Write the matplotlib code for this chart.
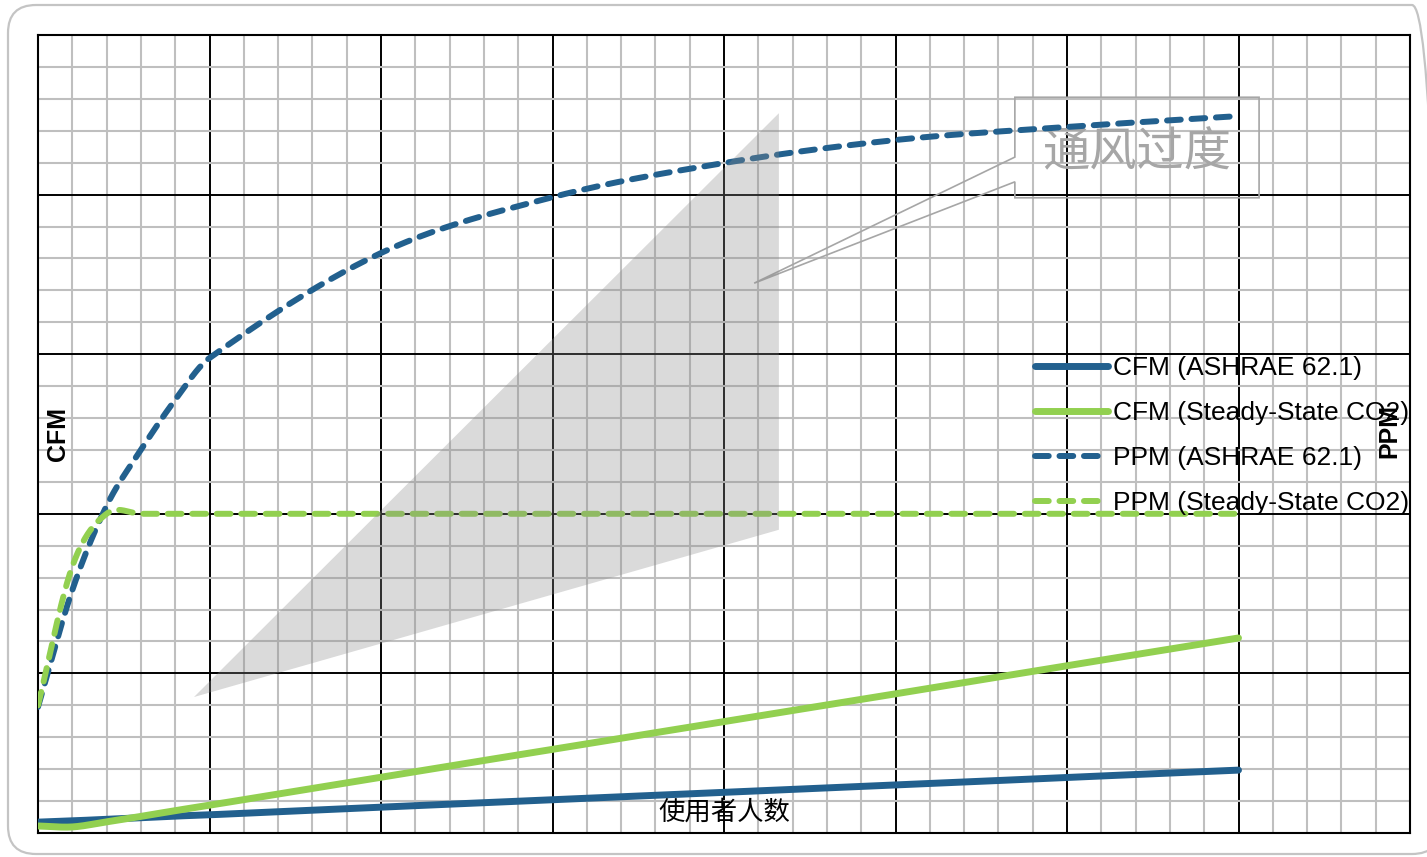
import numpy as np
import matplotlib
matplotlib.use("Agg")
import matplotlib.pyplot as plt
from matplotlib.patches import Polygon, FancyBboxPatch
from matplotlib.transforms import IdentityTransform

# ---- data -------------------------------------------------------------
occupants = [0, 1, 2, 3, 4, 5, 10, 15, 20, 25, 30, 35]
cfm_ashrae = [34, 38, 43, 48, 53, 57, 81, 104, 127, 150, 174, 197]
cfm_steady = [22, 19, 35, 52, 70, 87, 175, 262, 349, 436, 524, 611]
ppm_ashrae = [395, 761, 1025, 1200, 1357, 1488, 1817, 1992, 2099, 2171, 2212, 2246]
ppm_steady = [400, 835, 1000, 1000, 1000, 1000, 1000, 1000, 1000, 1000, 1000, 1000]

series_labels = ["CFM (ASHRAE 62.1)", "CFM (Steady-State CO2)",
                 "PPM (ASHRAE 62.1)", "PPM (Steady-State CO2)"]
x_title = "使用者人数"
left_title = "CFM"
right_title = "PPM"
callout_text = "通风过度"

BLUE = "#22608E"
GREEN = "#92D050"
LATIN = ["Liberation Sans", "DejaVu Sans"]
CJK = ["Noto Sans CJK SC", "DejaVu Sans"]


def smooth(x, y, n=40):
    """Piecewise cubic Hermite curve through the points (smoothed line)."""
    x = np.asarray(x, float)
    y = np.asarray(y, float)
    m = np.empty_like(y)
    m[1:-1] = (y[2:] - y[:-2]) / (x[2:] - x[:-2])
    m[0] = (y[1] - y[0]) / (x[1] - x[0])
    m[-1] = (y[-1] - y[-2]) / (x[-1] - x[-2])
    xs, ys = [], []
    for i in range(len(x) - 1):
        h = x[i + 1] - x[i]
        t = np.linspace(0, 1, n, endpoint=(i == len(x) - 2))
        h00 = 2 * t**3 - 3 * t**2 + 1
        h10 = t**3 - 2 * t**2 + t
        h01 = -2 * t**3 + 3 * t**2
        h11 = t**3 - t**2
        xs.append(x[i] + t * h)
        ys.append(h00 * y[i] + h10 * h * m[i] + h01 * y[i + 1] + h11 * h * m[i + 1])
    return np.concatenate(xs), np.concatenate(ys)


fig = plt.figure(figsize=(14.27, 8.57), dpi=100)
fig.patch.set_facecolor("white")

# rounded outer frame
frame = FancyBboxPatch((8, 3), 1432, 849, boxstyle="round,pad=0,rounding_size=28",
                       transform=IdentityTransform(), facecolor="none",
                       edgecolor="#C4C4C4", linewidth=1.6, zorder=0)
fig.patches.append(frame)

ax = fig.add_axes([38 / 1427, 1 - 833 / 857, 1372 / 1427, 798 / 857])
ax.set_xlim(0, 40)
ax.set_ylim(0, 2500)
ax.set_xticks(np.arange(0, 41, 5))
ax.set_xticks(np.arange(0, 41, 1), minor=True)
ax.set_yticks(np.arange(0, 2501, 500))
ax.set_yticks(np.arange(0, 2501, 100), minor=True)
ax.grid(which="minor", color="#BFBFBF", linewidth=1.5)
ax.grid(which="major", color="black", linewidth=1.4)
ax.tick_params(which="both", length=0, labelleft=False, labelbottom=False)
for s in ax.spines.values():
    s.set_color("black")
    s.set_linewidth(1.5)

ax2 = ax.twinx()
ax2.set_ylim(0, 2500)
ax2.tick_params(which="both", length=0, labelright=False)
for s in ax2.spines.values():
    s.set_visible(False)

solid_kw = dict(linewidth=5.0, solid_capstyle="round", solid_joinstyle="round")
dash_kw = dict(linewidth=4.3, dash_capstyle="round", dashes=(2.3, 1.8))

h1, = ax.plot(*smooth(occupants, cfm_ashrae), color=BLUE, **solid_kw, zorder=3)
h2, = ax.plot(*smooth(occupants, cfm_steady), color=GREEN, **solid_kw, zorder=3)
h3, = ax2.plot(*smooth(occupants, ppm_ashrae), color=BLUE, **dash_kw, zorder=3)
h4, = ax2.plot(*smooth(occupants, ppm_steady), color=GREEN, **dash_kw, zorder=3)

# shaded over-ventilation wedge
wedge = Polygon([(0.1137, 0.1704), (0.540, 0.902), (0.540, 0.380)], closed=True,
                transform=ax2.transAxes, facecolor="#8C8C8C", edgecolor="none",
                alpha=0.32, zorder=10)
ax2.add_patch(wedge)

# callout box with pointer
callout = Polygon([(0.712, 0.922), (0.890, 0.922), (0.890, 0.796), (0.712, 0.796),
                   (0.712, 0.816), (0.522, 0.689), (0.712, 0.847)],
                  closed=True, transform=ax.transAxes, facecolor="none",
                  edgecolor="#A6A6A6", linewidth=1.2, zorder=2.5)
ax.add_patch(callout)
ax.text(0.801, 0.852, callout_text, transform=ax.transAxes, ha="center", va="center",
        fontsize=34, color="#A6A6A6", family=CJK, zorder=2.5)

# titles
fig.text(58 / 1427, 1 - 434 / 857, left_title, rotation=90, ha="center", va="center",
         fontsize=18, fontweight="bold", family=LATIN)
fig.text(1389 / 1427, 1 - 431 / 857, right_title, rotation=90, ha="center", va="center",
         fontsize=18, fontweight="bold", family=LATIN, zorder=20)
fig.text(724 / 1427, 1 - 812 / 857, x_title, ha="center", va="center",
         fontsize=19, family=CJK, zorder=20)

leg = fig.legend([h1, h2, h3, h4], series_labels, loc="upper left",
                 bbox_to_anchor=(1035 / 1427, 1 - 356 / 857),
                 bbox_transform=fig.transFigure, frameon=False,
                 prop={"family": LATIN, "size": 19}, handlelength=2.75,
                 handletextpad=0.2, labelspacing=0.8, borderpad=0, borderaxespad=0)
leg.set_zorder(15)

fig.savefig("out.png", dpi=100)
